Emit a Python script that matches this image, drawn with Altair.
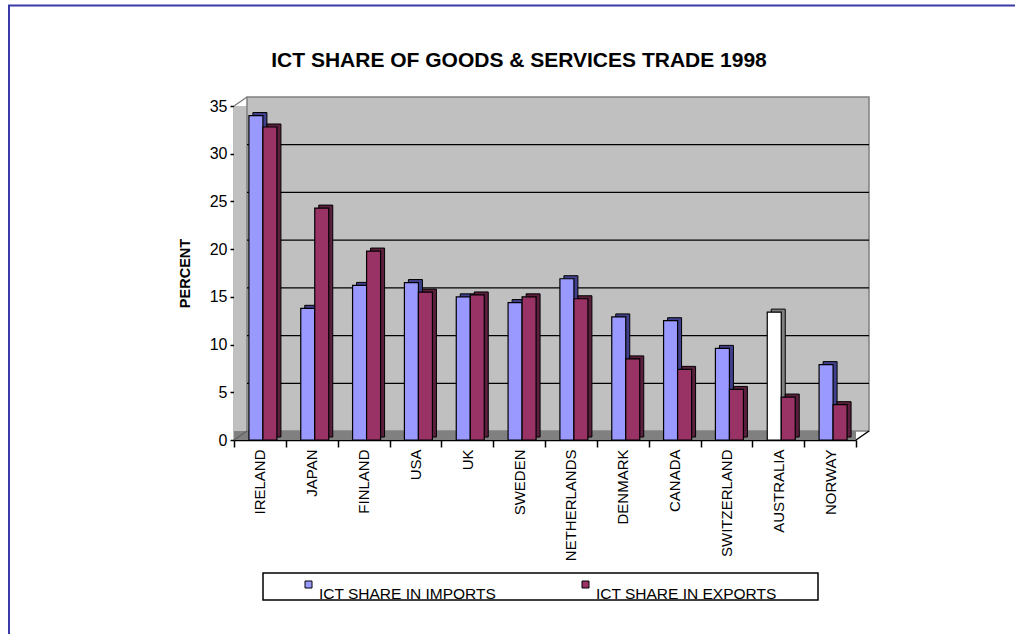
import altair as alt
import pandas as pd

# ---------------- data ----------------
countries = ["IRELAND", "JAPAN", "FINLAND", "USA", "UK", "SWEDEN", "NETHERLANDS",
             "DENMARK", "CANADA", "SWITZERLAND", "AUSTRALIA", "NORWAY"]
imports = [34.0, 13.8, 16.2, 16.5, 15.0, 14.4, 16.9, 12.9, 12.5, 9.6, 13.4, 7.9]
exports = [32.8, 24.3, 19.8, 15.5, 15.2, 15.0, 14.8, 8.5, 7.4, 5.3, 4.5, 3.7]
series_names = ["ICT SHARE IN IMPORTS", "ICT SHARE IN EXPORTS"]
y_ticks = [0, 5, 10, 15, 20, 25, 30, 35]
white_import_bars = ["AUSTRALIA"]
title_text = "ICT SHARE OF GOODS & SERVICES TRADE 1998"

# ---------------- styles ----------------
FONT = "Liberation Sans"
front_colors = ["#9999ff", "#993366"]
side_colors = ["#40408c", "#5a1f3c"]
W, H = 622, 334
DX, DY = 13, -9
BAR_W = 14
LEG_X = [71, 348]   # legend entry left edges (px, relative to plot origin)

df_imp = pd.DataFrame({"country": countries, "series": series_names[0], "value": imports})
df_exp = pd.DataFrame({"country": countries, "series": series_names[1], "value": exports})
one = pd.DataFrame({"k": [0]})
grid_df = pd.DataFrame({"value": y_ticks[1:-1]})

white_list = ",".join("'%s'" % c for c in white_import_bars)
white_test = "datum.series == '%s' && indexof([%s], datum.country) >= 0" % (series_names[0], white_list)

xscale = alt.Scale(domain=countries, paddingInner=0, paddingOuter=0)
yscale = alt.Scale(domain=[0, 35])

x_axis = alt.Axis(tickBand="extent", labelAngle=-90, labelAlign="right",
                  labelBaseline="middle", labelPadding=2, labelFont=FONT,
                  labelFontSize=15, labelColor="black", tickColor="black",
                  tickSize=7, tickWidth=1.5, domainColor="black", domainWidth=1.5)
y_axis = alt.Axis(values=y_ticks, grid=False, labelFont=FONT, labelFontSize=16,
                  labelColor="black", labelPadding=3, tickSize=4, tickColor="black",
                  tickWidth=1.5, domainColor="black", domainWidth=1.5,
                  titleFont=FONT, titleFontSize=14.5, titleFontWeight="bold",
                  titleColor="black", titleAngle=270, titleX=-49, titleY=H / 2,
                  titleAlign="center", titleBaseline="middle")

X = alt.X("country:N", scale=xscale, axis=x_axis, title=None)
Y = alt.Y("value:Q", scale=yscale, axis=y_axis, title="PERCENT")

# frame lines (blue border of the whole picture)
frame_top = alt.Chart(one).mark_rule(color="#3a3aa8", strokeWidth=2).encode(
    x=alt.value(-226), x2=alt.value(781), y=alt.value(-100.5))
frame_left = alt.Chart(one).mark_rule(color="#3a3aa8", strokeWidth=2).encode(
    x=alt.value(-225), y=alt.value(-101), y2=alt.value(528))

# 3D walls
left_wall = alt.Chart(one).mark_rect(fill="#c0c0c0").encode(
    x=alt.value(0), x2=alt.value(DX), y=alt.value(0), y2=alt.value(H))
back_wall = alt.Chart(one).mark_rect(fill="#c0c0c0", stroke="#808080", strokeWidth=1.5).encode(
    x=alt.value(DX), x2=alt.value(W + DX), y=alt.value(DY), y2=alt.value(H + DY))
floor = alt.Chart(one).mark_rect(fill="#808080").encode(
    x=alt.value(0), x2=alt.value(W), y=alt.value(H + DY), y2=alt.value(H))
diag1 = alt.Chart(one).mark_rule(color="#808080", strokeWidth=1.5).encode(
    x=alt.value(0), y=alt.value(0), x2=alt.value(DX), y2=alt.value(DY))
diag2 = alt.Chart(one).mark_rule(color="#606060", strokeWidth=1.2).encode(
    x=alt.value(0), y=alt.value(H), x2=alt.value(DX), y2=alt.value(H + DY))
diag3 = alt.Chart(one).mark_rule(color="black", strokeWidth=1.5).encode(
    x=alt.value(W), y=alt.value(H), x2=alt.value(W + DX), y2=alt.value(H + DY))

grid = alt.Chart(grid_df).mark_rule(yOffset=DY, color="black", strokeWidth=1.3).encode(
    y=Y, x=alt.value(DX), x2=alt.value(W + DX))


def bars(data, offset, shade):
    if shade:
        fill = alt.condition(white_test, alt.value("#808080"),
                             alt.Fill("series:N", scale=alt.Scale(domain=series_names, range=side_colors),
                                      legend=None))
        return alt.Chart(data).mark_bar(width=BAR_W, xOffset=offset + 4, yOffset=-3,
                                        stroke="black", strokeWidth=1).encode(x=X, y=Y, fill=fill)
    color = alt.condition(white_test, alt.value("white"),
                          alt.Color("series:N", scale=alt.Scale(domain=series_names, range=front_colors),
                                    legend=None))
    return alt.Chart(data).mark_bar(width=BAR_W, xOffset=offset, stroke="black",
                                    strokeWidth=1.2).encode(x=X, y=Y, color=color)


imp_shadow = bars(df_imp, -4, True)
exp_shadow = bars(df_exp, 10, True)
imp_front = bars(df_imp, -4, False)
exp_front = bars(df_exp, 10, False)

# legend (box + two entries)
legend_box = alt.Chart(one).mark_rect(fill="white", stroke="black", strokeWidth=1.5).encode(
    x=alt.value(29), x2=alt.value(584), y=alt.value(467), y2=alt.value(494))
legend_layers = []
for name, col, lx in zip(series_names, front_colors, LEG_X):
    legend_layers.append(alt.Chart(one).mark_rect(fill=col, stroke="black", strokeWidth=1).encode(
        x=alt.value(lx), x2=alt.value(lx + 7), y=alt.value(475), y2=alt.value(482)))
    legend_layers.append(alt.Chart(one).mark_text(text=name, font=FONT, fontSize=15.5,
                                                  color="black", align="left",
                                                  baseline="alphabetic").encode(
        x=alt.value(lx + 14), y=alt.value(493)))

title = alt.Chart(one).mark_text(text=title_text, font=FONT, fontSize=21, fontWeight="bold",
                                 color="black", align="center", baseline="alphabetic").encode(
    x=alt.value(285), y=alt.value(-39))

chart = alt.layer(
    frame_top, frame_left, left_wall, back_wall, floor, diag1, diag2, diag3,
    grid, imp_shadow, exp_shadow, imp_front, exp_front, legend_box, *legend_layers, title
).properties(
    width=W, height=H,
    autosize=alt.AutoSizeParams(type="none"),
    padding={"left": 234, "top": 106, "right": 159, "bottom": 194},
    background="white",
).configure_view(strokeWidth=0).configure_axis(zindex=1)

chart.save("out.html", embed_options={"renderer": "svg", "actions": False})
